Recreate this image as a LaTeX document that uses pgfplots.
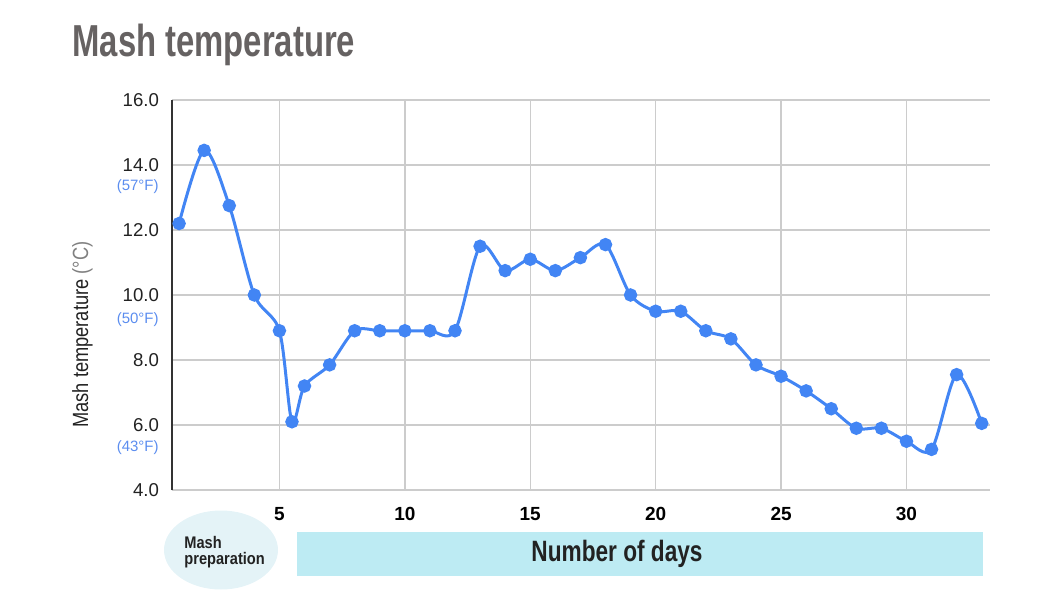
\documentclass[border=0pt]{standalone}
\usepackage{fontspec}
\setmainfont{Liberation Sans}
\usepackage{pgfplots}
\pgfplotsset{compat=1.18}
\definecolor{lineblue}{HTML}{4285F4}
\definecolor{fblue}{HTML}{5B8DEF}
\definecolor{titlegray}{HTML}{666262}
\definecolor{gridgray}{HTML}{CCCCCC}
\definecolor{boxcyan}{HTML}{BDEBF3}
\definecolor{ellcyan}{HTML}{E4F3F7}
\definecolor{txt}{HTML}{222222}

\pgfplotstableread{
d t
1 12.2
2 14.45
3 12.75
4 10.0
5 8.9
5.5 6.1
6 7.2
7 7.85
8 8.9
9 8.9
10 8.9
11 8.9
12 8.9
13 11.5
14 10.75
15 11.1
16 10.75
17 11.15
18 11.55
19 10.0
20 9.5
21 9.5
22 8.9
23 8.65
24 7.85
25 7.5
26 7.05
27 6.5
28 5.9
29 5.9
30 5.5
31 5.25
32 7.55
33 6.05
}\mashdata

\begin{document}
\begin{tikzpicture}
\begin{scope}[x=0.5pt,y=-0.5pt,yshift=303pt]
\path (0,0) rectangle (1060,606);
% title
\node[anchor=base west, inner sep=0, text=titlegray] at (72,57)
  {\fontsize{22.4}{24}\selectfont\bfseries\scalebox{0.733}[1]{Mash temperature}};
% y label
\node[anchor=base west, inner sep=0, rotate=90, text=txt] at (88,428)
  {\fontsize{11}{12}\selectfont\scalebox{0.83}[1]{Mash temperature \textcolor{black!50}{(°C)}}};
% Fahrenheit labels
\node[anchor=east, inner sep=0, text=fblue] at (159,187) {\fontsize{7.5}{8}\selectfont (57°F)};
\node[anchor=east, inner sep=0, text=fblue] at (159,320) {\fontsize{7.5}{8}\selectfont (50°F)};
\node[anchor=east, inner sep=0, text=fblue] at (159,448) {\fontsize{7.5}{8}\selectfont (43°F)};
% bottom decorations
\fill[ellcyan] (221,550) ellipse [x radius=28.5pt, y radius=19.75pt];
\fill[boxcyan] (297,532) rectangle (983,576);
\node[anchor=base west, inner sep=0, text=txt, align=left,
  font=\fontsize{8.4}{7.6}\selectfont\bfseries] at (184,564)
  {\scalebox{0.87}[1]{Mash}\\\scalebox{0.87}[1]{preparation}};
\node[anchor=base, inner sep=0, text=txt] at (617,561)
  {\fontsize{14.7}{16}\selectfont\bfseries\scalebox{0.77}[1]{Number of days}};
\end{scope}

\begin{axis}[
  at={(86pt,58pt)}, anchor=south west,
  scale only axis, width=409pt, height=195pt,
  xmin=0.717, xmax=33.33, ymin=4, ymax=16,
  xtick={5,10,...,30}, ytick={4,6,...,16},
  grid=major,
  major grid style={draw=gridgray, line width=0.75pt},
  axis line style={draw=none},
  major tick length=0pt,
  /pgf/number format/assume math mode=true,
  yticklabel style={font=\fontsize{9.3}{10}\selectfont, text=txt, xshift=-3pt,
    /pgf/number format/.cd, fixed, fixed zerofill, precision=1},
  xticklabel style={font=\fontsize{9.5}{10}\selectfont\bfseries, text=black, yshift=-5pt},
  clip=false,
]
\draw[black!80, line width=0.8pt] (rel axis cs:0,0) -- (rel axis cs:0,1);
\addplot[lineblue, line width=1.5pt, smooth, tension=0.5,
  mark=*, mark size=2.6pt, mark options={solid, fill=lineblue, draw=none}]
  table[x=d, y=t] {\mashdata};
\end{axis}
\end{tikzpicture}
\end{document}
